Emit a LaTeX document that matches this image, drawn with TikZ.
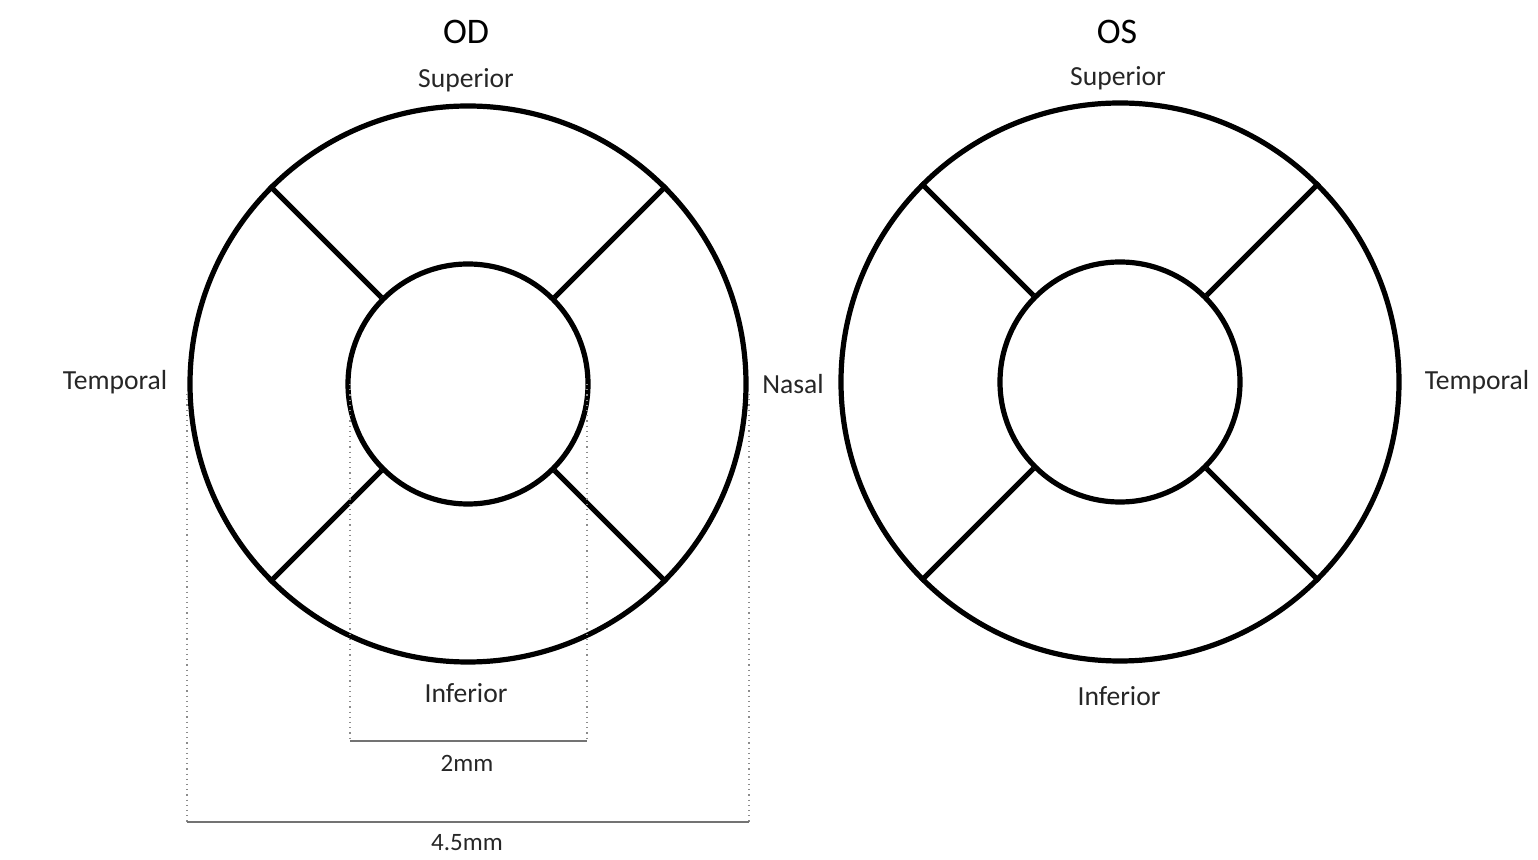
\documentclass[tikz,border=0pt]{standalone}
\usepackage{fontspec}
\setmainfont{Carlito}
\begin{document}
\begin{tikzpicture}[x=0.5pt,y=-0.5pt,
  ring/.style={circle,draw=black,line width=2.6pt,inner sep=0pt},
  spoke/.style={line width=2.5pt,line cap=butt},
  lbl/.style={font=\fontsize{13.8}{16}\selectfont,text=black!85},
  ttl/.style={font=\fontsize{18}{21}\selectfont},
  dimlbl/.style={font=\fontsize{12.5}{15}\selectfont,text=black!85},
  guide/.style={draw=black!45,line width=0.6pt,dotted},
  dimline/.style={draw=black!55,line width=1pt}]
\useasboundingbox (0,0) rectangle (1538,860);
% OD
\node[ring,minimum size=556*0.5pt] (odout) at (468,384) {};
\node[ring,minimum size=240*0.5pt] (odin) at (468,384) {};
\foreach \a in {45,135,225,315}
  \draw[spoke] (odin.\a) -- (odout.\a);
% OS
\node[ring,minimum size=558*0.5pt] (osout) at (1120,382) {};
\node[ring,minimum size=240*0.5pt] (osin) at (1120,382) {};
\foreach \a in {45,135,225,315}
  \draw[spoke] (osin.\a) -- (osout.\a);
% labels
\node[ttl] (odt) at (466,32) {OD};
\node[ttl] (ost) at (1117,32) {OS};
\node[lbl] (odsup) at (466,80) {Superior};
\node[lbl] (odtemp) at (115,382) {Temporal};
\node[lbl] (odnas) at (793,384) {Nasal};
\node[lbl] (odinf) at (466,693) {Inferior};
\node[lbl] (ossup) at (1118,78) {Superior};
\node[lbl] (ostemp) at (1477,382) {Temporal};
\node[lbl] (osinf) at (1119,696) {Inferior};
% dimensions
\coordinate (a1) at (350,384);
\coordinate (a2) at (350,741);
\coordinate (b1) at (587,384);
\coordinate (b2) at (587,741);
\coordinate (c1) at (187,394);
\coordinate (c2) at (187,822);
\coordinate (d1) at (749,394);
\coordinate (d2) at (749,822);
\draw[guide] (a1) -- (a2);
\draw[guide] (b1) -- (b2);
\draw[guide] (c1) -- (c2);
\draw[guide] (d1) -- (d2);
\draw[dimline] (a2) -- (b2);
\draw[dimline] (c2) -- (d2);
\node[dimlbl] (two) at (467,763) {2mm};
\node[dimlbl] (four) at (467,843) {4.5mm};
\end{tikzpicture}
\end{document}
